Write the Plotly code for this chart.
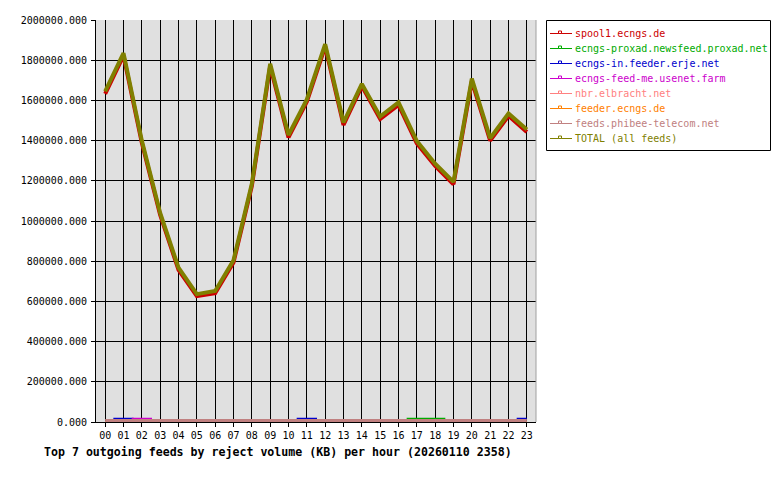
import plotly.graph_objects as go

hours = ["00", "01", "02", "03", "04", "05", "06", "07", "08", "09", "10", "11",
         "12", "13", "14", "15", "16", "17", "18", "19", "20", "21", "22", "23"]

feed_names = ["spool1.ecngs.de", "ecngs-proxad.newsfeed.proxad.net", "ecngs-in.feeder.erje.net",
              "ecngs-feed-me.usenet.farm", "nbr.elbracht.net", "feeder.ecngs.de",
              "feeds.phibee-telecom.net", "TOTAL (all feeds)"]
feed_colors = ["#cc0000", "#00aa00", "#0000cc", "#cc00cc", "#ff8080", "#ff8000", "#c08080", "#808000"]

spool1 = [1633000, 1823000, 1389000, 1030000, 757000, 626000, 641000, 794000, 1174000, 1770000,
          1416000, 1594000, 1868000, 1478000, 1671000, 1508000, 1578000, 1386000, 1274000, 1183000,
          1696000, 1400000, 1523000, 1443000]
proxad = [0, 0, 0, 0, 0, 0, 0, 0, 0, 0, 0, 0, 0, 0, 0, 0, 0, 16000, 16000, 0, 0, 0, 0, 0]
erje = [0, 16000, 0, 0, 0, 0, 0, 0, 0, 0, 0, 16000, 0, 0, 0, 0, 0, 0, 0, 0, 0, 0, 0, 16000]
feedme = [0, 0, 16000, 0, 0, 0, 0, 0, 0, 0, 0, 0, 0, 0, 0, 0, 0, 0, 0, 0, 0, 0, 0, 0]
elbracht = [0, 0, 0, 0, 0, 0, 0, 0, 0, 0, 0, 0, 0, 0, 0, 0, 0, 0, 0, 0, 0, 0, 0, 0]
feeder = [0, 0, 0, 0, 0, 0, 0, 0, 0, 0, 0, 0, 0, 0, 0, 0, 0, 0, 0, 0, 0, 0, 0, 0]
phibee = [5000, 5000, 5000, 5000, 5000, 5000, 5000, 5000, 5000, 5000, 5000, 5000,
          5000, 5000, 5000, 5000, 5000, 5000, 5000, 5000, 5000, 5000, 5000, 5000]
total = [1645000, 1835000, 1400000, 1040000, 768000, 636000, 652000, 805000, 1185000, 1782000,
         1428000, 1605000, 1880000, 1490000, 1682000, 1520000, 1590000, 1398000, 1285000, 1195000,
         1708000, 1412000, 1535000, 1455000]

series = [spool1, proxad, erje, feedme, elbracht, feeder, phibee, total]
widths = [4, 2, 2, 2, 2, 2, 4, 4]
shapes_kind = ["linear", "hvh", "hvh", "hvh", "hvh", "hvh", "linear", "linear"]

title_text = "Top 7 outgoing feeds by reject volume (KB) per hour (20260110 2358)"
MONO = "DejaVu Sans Mono"

# page offset (browser body margin) and plot-area geometry in page pixels
OFF = 8
L, R, T, B = 96, 536, 20, 422
W, H = R - L, B - T
FIG_W, FIG_H = 764, 464


def px(xp):
    return (xp - L) / W


def py(yp):
    return (B - yp) / H


xs = list(range(len(hours)))
fig = go.Figure()
for name, vals, col, w, shp in zip(feed_names, series, feed_colors, widths, shapes_kind):
    fig.add_trace(go.Scatter(x=xs, y=vals, mode="lines", name=name,
                             line=dict(color=col, width=w, shape=shp),
                             showlegend=False, hoverinfo="x+y+name"))

shapes = []
annotations = []
# right border of plot area
shapes.append(dict(type="line", xref="paper", yref="paper", x0=1, x1=1, y0=0, y1=1,
                   line=dict(color="#a0a0a0", width=1)))
# legend box
shapes.append(dict(type="rect", xref="paper", yref="paper",
                   x0=px(546.5), x1=px(770.5), y0=py(150.5), y1=py(20.5),
                   line=dict(color="black", width=1), fillcolor="white", layer="above"))
for i, (name, col) in enumerate(zip(feed_names, feed_colors)):
    yc = 33.5 + 15 * i
    shapes.append(dict(type="line", xref="paper", yref="paper",
                       x0=px(550), x1=px(572), y0=py(yc), y1=py(yc),
                       line=dict(color=col, width=1), layer="above"))
    shapes.append(dict(type="rect", xref="paper", yref="paper",
                       x0=px(558.5), x1=px(561.5), y0=py(yc), y1=py(yc - 2.5),
                       line=dict(color=col, width=1), fillcolor="white", layer="above"))
    annotations.append(dict(text=name, xref="paper", yref="paper", x=px(573), y=py(yc),
                            xanchor="left", yanchor="middle", showarrow=False,
                            font=dict(family=MONO, size=10, color=col)))

annotations.append(dict(text="<b>" + title_text + "</b>", xref="paper", yref="paper",
                        x=px(42), y=py(452), xanchor="left", yanchor="middle", showarrow=False,
                        font=dict(family=MONO, size=11.6, color="black")))

fig.update_layout(
    width=FIG_W, height=FIG_H,
    margin=dict(l=L - OFF, r=FIG_W - (R - OFF), t=T - OFF, b=FIG_H - (B - OFF), pad=0,
                autoexpand=False),
    paper_bgcolor="white", plot_bgcolor="#e0e0e0",
    font=dict(family=MONO, size=10, color="black"),
    shapes=shapes, annotations=annotations,
    showlegend=False,
)
fig.update_xaxes(range=[-0.5, 23.5], tickvals=xs, ticktext=hours, automargin=False,
                 showgrid=True, gridcolor="black", gridwidth=1,
                 showline=True, linecolor="black", linewidth=1,
                 ticks="outside", ticklen=4, tickcolor="black", zeroline=False,
                 tickfont=dict(family=MONO, size=10, color="black"))
fig.update_yaxes(range=[0, 2000000], dtick=200000, tick0=0, tickformat=".3f", automargin=False,
                 showgrid=True, gridcolor="black", gridwidth=1,
                 showline=True, linecolor="black", linewidth=1,
                 ticks="outside", ticklen=4, tickcolor="black", zeroline=False,
                 ticklabelstandoff=2,
                 tickfont=dict(family=MONO, size=10, color="black"))

fig.write_html("out.html")
